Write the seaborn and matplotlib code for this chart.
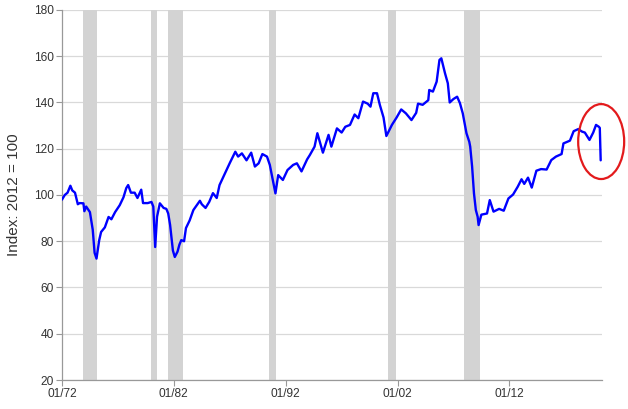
import pandas as pd
import matplotlib
matplotlib.use("Agg")
import matplotlib.pyplot as plt
import matplotlib.dates as mdates
from matplotlib.patches import Ellipse
import seaborn as sns

# Values (index, 2012 = 100)
dates = [
    "1972-01", "1972-04", "1972-07", "1972-10", "1972-12", "1973-03", "1973-06", "1973-08",
    "1973-12", "1974-01", "1974-03", "1974-07", "1974-10", "1974-12", "1975-02", "1975-05",
    "1975-07", "1975-11", "1976-03", "1976-06", "1976-10", "1977-03", "1977-07", "1977-10",
    "1977-12", "1978-03", "1978-07", "1978-10", "1979-02", "1979-04", "1979-09", "1980-01",
    "1980-03", "1980-05", "1980-07", "1980-10", "1981-02", "1981-05", "1981-07", "1981-09",
    "1981-12", "1982-02", "1982-05", "1982-07", "1982-09", "1982-12", "1983-02", "1983-06",
    "1983-10", "1984-05", "1984-07", "1984-11", "1985-03", "1985-07", "1985-11", "1986-02",
    "1986-08", "1987-01", "1987-07", "1987-10", "1988-02", "1988-07", "1988-12", "1989-04",
    "1989-08", "1989-12", "1990-05", "1990-08", "1990-12", "1991-02", "1991-05", "1991-10",
    "1992-03", "1992-09", "1993-01", "1993-06", "1993-12", "1994-03", "1994-08", "1994-11",
    "1995-05", "1995-11", "1996-02", "1996-08", "1997-01", "1997-05", "1997-10", "1998-03",
    "1998-07", "1998-12", "1999-05", "1999-08", "1999-11", "2000-03", "2000-06", "2000-10",
    "2000-12", "2001-01", "2001-07", "2001-12", "2002-05", "2002-10", "2003-04", "2003-09",
    "2003-11", "2004-04", "2004-10", "2004-11", "2005-03", "2005-07", "2005-10", "2005-12",
    "2006-04", "2006-07", "2006-09", "2007-01", "2007-05", "2007-08", "2007-11", "2008-03",
    "2008-06", "2008-07", "2008-09", "2008-11", "2009-01", "2009-03", "2009-04", "2009-07",
    "2010-01", "2010-04", "2010-08", "2011-02", "2011-07", "2011-12", "2012-05", "2012-10",
    "2013-02", "2013-05", "2013-09", "2014-01", "2014-06", "2014-11", "2015-05", "2015-10",
    "2016-03", "2016-09", "2016-11", "2017-06", "2017-10", "2018-03", "2018-07", "2018-10",
    "2019-03", "2019-07", "2019-10", "2020-01", "2020-02", "2020-03",
]
values = [
    98, 100, 101, 104, 102, 101, 96, 96.5,
    96.4, 93, 95, 92.6, 85, 75, 72.5, 80.5,
    84, 86, 90.5, 89.5, 92.6, 95.6, 99, 103,
    104.3, 101, 101, 98.7, 102.3, 96.5, 96.5, 97,
    95, 77.5, 90.6, 96.4, 94.4, 94, 92, 87,
    76, 73.2, 75.5, 78.5, 80.5, 80, 85.7, 89,
    93.5, 97.5, 96, 94.4, 97, 100.8, 98.7, 104.3,
    109.5, 113.8, 118.7, 116.6, 118, 115, 118.3, 112.3,
    113.7, 117.7, 116.6, 113, 105, 100.7, 108.6, 106.5,
    110.8, 113, 113.7, 110.2, 115.4, 117.3, 120.9, 126.7,
    118.3, 126, 120.9, 128.8, 127, 129.5, 130.3, 134.8,
    133.2, 140.4, 139.5, 138.2, 144, 144, 139, 133.5,
    128, 125.5, 130.3, 133.5, 137, 135.3, 132.4, 135.5,
    139.5, 139, 141, 145.4, 144.7, 149, 158.4, 159.1,
    152.6, 148.3, 140, 141.5, 142.5, 139.7, 135.3, 126.7,
    123, 120.9, 112.3, 100.7, 93.5, 90.6, 87, 91.5,
    92, 97.8, 92.8, 94, 93.2, 98.5, 100.2, 103.6,
    106.8, 104.8, 107.5, 103.2, 110.5, 111.2, 111, 115.1,
    116.6, 117.7, 122.3, 123.5, 127.6, 128.5, 127.4, 127,
    123.8, 127, 130.3, 129.5, 129, 115,
]

# NBER recessions (shaded)
rec_start = ["1973-11-01", "1980-01-01", "1981-07-01", "1990-07-01", "2001-03-01", "2007-12-01"]
rec_end = ["1975-03-01", "1980-07-01", "1982-11-01", "1991-03-01", "2001-11-01", "2009-06-01"]

tick_dates = ["1972-01-01", "1982-01-01", "1992-01-01", "2002-01-01", "2012-01-01"]
tick_labels = ["01/72", "01/82", "01/92", "01/02", "01/12"]


def make_plot():
    df = pd.DataFrame({"Date": pd.to_datetime(dates), "Index": values})

    sns.set_style("white")
    plt.rcParams["font.family"] = ["Liberation Sans", "DejaVu Sans"]

    fig = plt.figure(figsize=(6.28, 4.09), dpi=100)
    ax = fig.add_axes([0.0987, 0.0709, 0.86, 0.9047])

    for s, e in zip(rec_start, rec_end):
        ax.axvspan(pd.Timestamp(s), pd.Timestamp(e), color="#d3d3d3", lw=0, zorder=1)

    sns.lineplot(data=df, x="Date", y="Index", ax=ax, color="#0000ff", lw=1.7, zorder=3)

    ax.set_ylim(20, 180)
    ax.set_yticks(range(20, 181, 20))
    ax.set_xlim(pd.Timestamp("1972-01-01"), pd.Timestamp("2020-04-15"))
    ax.set_xticks(pd.to_datetime(tick_dates))
    ax.set_xticklabels(tick_labels)

    ax.grid(axis="y", color="#d9d9d9", lw=0.9, zorder=0)
    ax.set_axisbelow(True)
    for side in ["top", "right"]:
        ax.spines[side].set_visible(False)
    for side in ["left", "bottom"]:
        ax.spines[side].set_color("#999999")
        ax.spines[side].set_linewidth(0.9)
    ax.tick_params(axis="both", length=4, width=0.8, color="#999999",
                   labelsize=8.6, labelcolor="#333333", pad=2)
    ax.tick_params(axis="x", bottom=True)
    ax.tick_params(axis="y", left=True)

    ax.set_xlabel("")
    ax.set_ylabel("Index: 2012 = 100", fontsize=11, color="#333333", labelpad=9)

    # red circle around the latest drop
    cx = mdates.date2num(pd.Timestamp("2020-03-17"))
    ell = Ellipse((cx, 123.1), width=1502, height=32.4, fill=False,
                  edgecolor="#e31a1c", lw=1.6, clip_on=False, zorder=4)
    ax.add_patch(ell)

    fig.savefig("out.png", dpi=100)


if __name__ == "__main__":
    make_plot()
